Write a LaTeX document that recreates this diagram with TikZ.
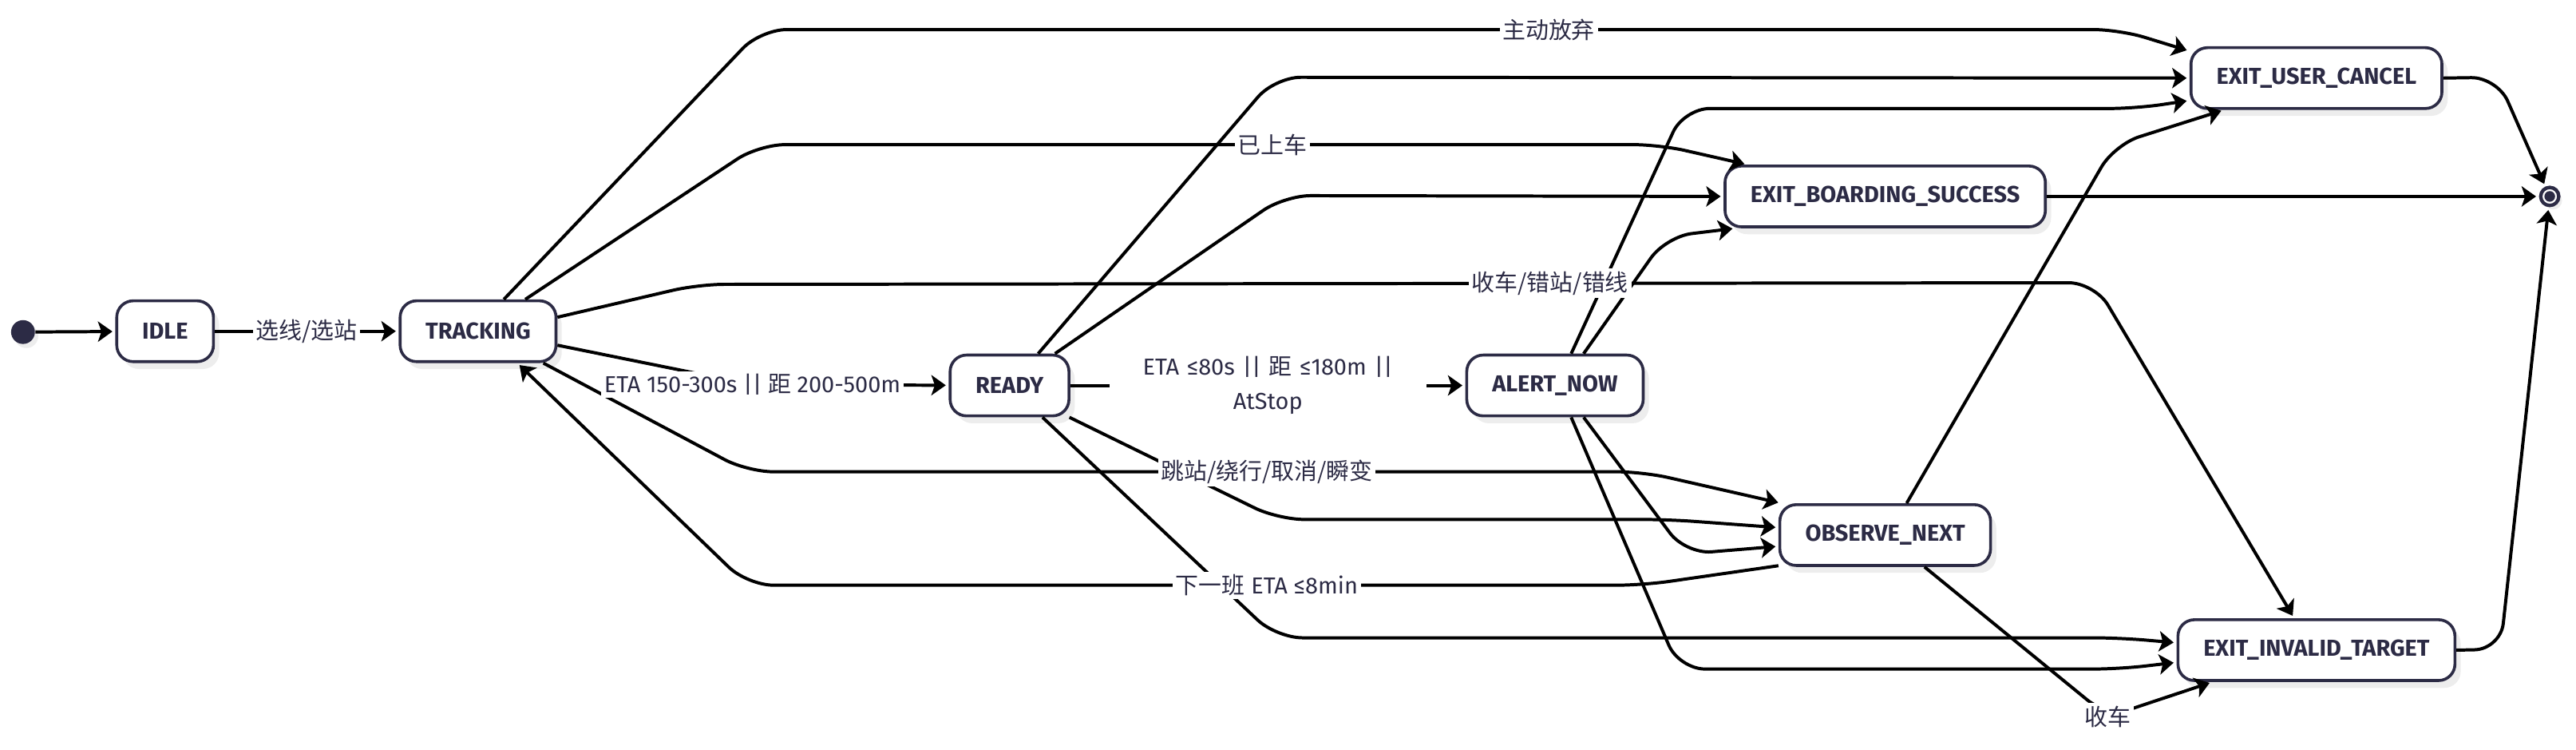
\documentclass[tikz,border=0pt]{standalone}
\usepackage{fontspec}
\setmainfont{Fira Sans}
\newfontfamily\cjk{Noto Sans CJK SC}
\usetikzlibrary{arrows.meta,shadows}
\definecolor{navy}{HTML}{2C2B45}
\tikzset{
  state/.style={draw=navy, line width=1pt, fill=white, rounded corners=0.2cm, minimum height=0.74cm, inner xsep=0.31cm, text=navy, font=\fontsize{8}{9.6}\selectfont\bfseries, drop shadow={shadow xshift=0.07cm, shadow yshift=-0.09cm, fill=black!7, opacity=1}},
  startdot/.style={circle, fill=navy, minimum size=0.29cm, inner sep=0pt, drop shadow={shadow xshift=0.04cm, shadow yshift=-0.05cm, fill=black!7, opacity=1}},
  enddot/.style={circle, draw=navy, line width=1.2pt, fill=white, minimum size=0.22cm, inner sep=0pt, path picture={\fill[navy] (path picture bounding box.center) circle (0.065cm);}, drop shadow={shadow xshift=0.04cm, shadow yshift=-0.05cm, fill=black!7, opacity=1}},
  edge/.style={-{Stealth[length=5pt,width=7pt,inset=1.2pt]}, line width=1.1pt, rounded corners=9pt, shorten >=1pt},
  lbl/.style={fill=white, inner sep=1pt, text=navy, font=\fontsize{8}{12}\selectfont}
}
\begin{document}
\begin{tikzpicture}[x=0.02cm,y=-0.02cm]
\useasboundingbox (0,0) rectangle (1568,456);
\node[startdot] (start) at (14,202) {};
\node[state] (IDLE) at (100.5,201.5) {IDLE};
\node[state] (TRACKING) at (291,201.5) {TRACKING};
\node[state] (READY) at (614.5,234.5) {READY};
\node[state] (ALERT) at (946.5,234.5) {ALERT\_NOW};
\node[state] (CANCEL) at (1410,47.5) {EXIT\_USER\_CANCEL};
\node[state] (BOARD) at (1147.5,119.5) {EXIT\_BOARDING\_SUCCESS};
\node[state] (OBSERVE) at (1147.5,325.5) {OBSERVE\_NEXT};
\node[state] (INVALID) at (1410,395.5) {EXIT\_INVALID\_TARGET};
\node[enddot] (end) at (1552,119.5) {};

\draw[edge] (start) -- (IDLE);
\draw[edge] (IDLE) -- coordinate (p1) (TRACKING);
\draw[edge] (TRACKING.-10) -- (458,234) coordinate (p2) -- (READY);
\draw[edge] (READY) -- coordinate (p3) (ALERT);
\draw[edge] (TRACKING.51) -- (463,18) -- coordinate[pos=0.58] (p4) (1290,18) -- (CANCEL.168);
\draw[edge] (TRACKING.34) -- (462,88) -- coordinate[pos=0.57] (p5) (1010,88) -- (BOARD.167);
\draw[edge] (TRACKING.10) -- (425,173) -- coordinate[pos=0.61] (p6) (1275,172) -- (INVALID.125);
\draw[edge] (TRACKING.-26) -- (455,287) -- coordinate[pos=0.58] (p7) (1000,287) -- (OBSERVE.163);
\draw[edge] (OBSERVE.196) -- (1000,356) -- coordinate[pos=0.42] (p8) (455,356) -- (TRACKING.-39);
\draw[edge] (READY.48) -- (776,47) -- (CANCEL.west);
\draw[edge] (READY.35) -- (782,119) -- (BOARD.west);
\draw[edge] (READY.-28) -- (778,316) -- (1015,316) -- (OBSERVE.176);
\draw[edge] (READY.-44) -- (777,388) -- (1290,388) -- (INVALID.177);
\draw[edge] (ALERT.63) -- (1025,66) -- (1300,66) -- (CANCEL.190);
\draw[edge] (ALERT.48) -- (1014,144) -- (BOARD.192);
\draw[edge] (ALERT.-48) -- (1026,337) -- (OBSERVE.186);
\draw[edge] (ALERT.-63) -- (1022,407) -- (1290,407) -- (INVALID.185);
\draw[edge] (OBSERVE.56) -- (1287,88) -- (CANCEL.199);
\draw[edge] (OBSERVE.-39) -- (1283,436) coordinate (p9) -- (INVALID.197);
\draw[edge] (CANCEL.east) -- (1520,47) -- (end);
\draw[edge] (BOARD) -- (end);
\draw[edge] (INVALID.east) -- (1522,395) -- (end);

\node[lbl] (l1) at (p1) {\cjk 选线/选站};
\node[lbl] (l2) at (p2) {ETA 150-300s || {\cjk 距} 200-500m};
\node[lbl, text width=3.79cm, align=center] (l3) at (p3) {ETA ≤80s || {\cjk 距} ≤180m ||\\AtStop};
\node[lbl] (l4) at (p4) {\cjk 主动放弃};
\node[lbl] (l5) at (p5) {\cjk 已上车};
\node[lbl] (l6) at (p6) {\cjk 收车/错站/错线};
\node[lbl] (l7) at (p7) {\cjk 跳站/绕行/取消/瞬变};
\node[lbl] (l8) at (p8) {{\cjk 下一班} ETA ≤8min};
\node[lbl] (l9) at (p9) {\cjk 收车};
\end{tikzpicture}
\end{document}
